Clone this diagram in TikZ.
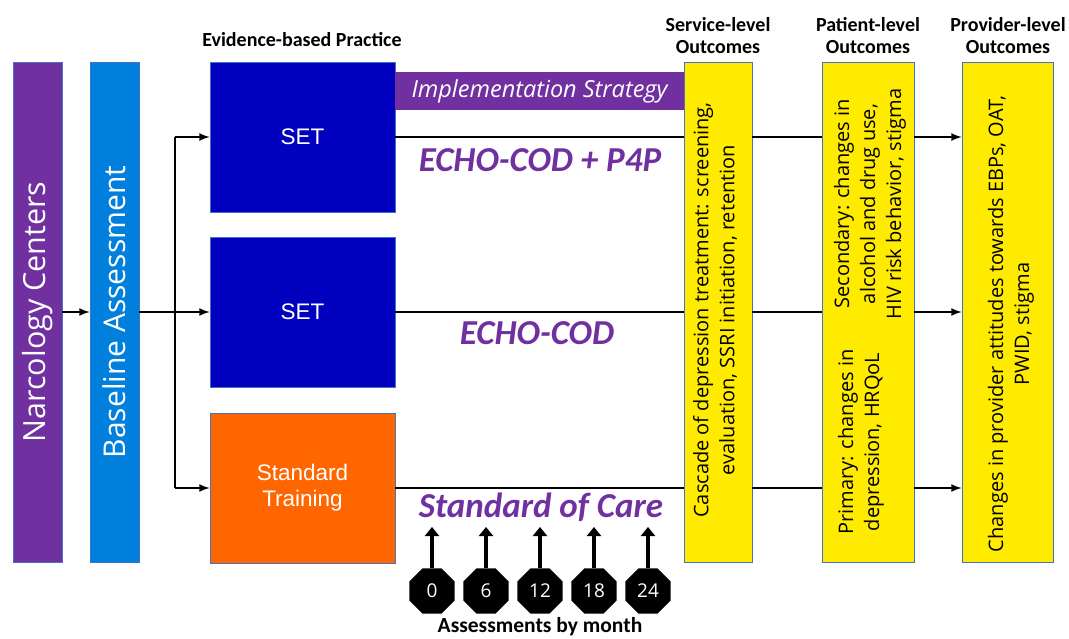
\documentclass[tikz,border=0pt]{standalone}
\usepackage{fontspec}
\setmainfont{Carlito}
\newfontfamily\osans{Open Sans}
\newfontfamily\arialf{Liberation Sans}
\usetikzlibrary{shapes,arrows,arrows.meta}

\definecolor{narcpurple}{RGB}{112,48,160}
\definecolor{baseblue}{RGB}{0,128,220}
\definecolor{setblue}{RGB}{0,0,190}
\definecolor{stdorange}{RGB}{255,102,0}
\definecolor{outyellow}{RGB}{255,235,0}
\definecolor{edge}{RGB}{68,114,196}

\begin{document}
\begin{tikzpicture}[x=1pt,y=-1pt]
	\tikzstyle{column} = [draw=edge, line width=0.7pt, inner sep=0pt, minimum width=500pt, minimum height=49pt, rotate=90, text=white]
	\tikzstyle{practice} = [draw=edge, line width=0.7pt, minimum width=185pt, minimum height=150pt, text=white, align=center, font=\arialf\fontsize{22.5}{26}\selectfont]
	\tikzstyle{outcome} = [draw=edge, fill=outyellow, line width=0.7pt, minimum height=500pt, inner sep=0pt]
	\tikzstyle{outtext} = [rotate=90, align=center, font=\osans\fontsize{20}{26}\selectfont]
	\tikzstyle{arm} = [text=narcpurple, font=\bfseries\itshape\fontsize{35}{40}\selectfont]
	\tikzstyle{head} = [align=center, font=\bfseries\fontsize{20}{22}\selectfont]
	\tikzstyle{flow} = [line width=2.5pt]
	\tikzstyle{month} = [regular polygon, regular polygon sides=8, fill=black, minimum size=49pt, inner sep=0pt, text=white, font=\osans\fontsize{19}{23}\selectfont]

	\useasboundingbox (0,0) rectangle (1069,639);

	% left columns
	\node[column, fill=narcpurple, font=\osans\fontsize{30.5}{34}\selectfont] (narc) at (37.5,312) {Narcology Centers};
	\node[column, fill=baseblue, font=\osans\fontsize{30}{34}\selectfont] (base) at (114.5,312) {Baseline Assessment};

	% evidence-based practice
	\node[head] (hebp) at (302,40) {Evidence-based Practice};
	\node[practice, fill=setblue] (set1) at (302.5,137) {SET};
	\node[practice, fill=setblue] (set2) at (302.5,312) {SET};
	\node[practice, fill=stdorange] (std) at (302.5,488) {Standard\\Training};

	\node[fill=narcpurple, minimum width=289pt, minimum height=38pt, inner sep=0pt, text=white, font=\osans\itshape\fontsize{23.5}{27}\selectfont] (impl) at (539.5,91) {Implementation Strategy};

	% outcomes
	\node[head] (hsvc) at (718,36) {Service-level\\Outcomes};
	\node[head] (hpat) at (868,36) {Patient-level\\Outcomes};
	\node[head] (hprov) at (1008,36) {Provider-level\\Outcomes};

	\node[outcome, minimum width=68pt] (svc) at (718,312) {};
	\node[outcome, minimum width=92pt] (pat) at (868,312) {};
	\node[outcome, minimum width=91pt] (prov) at (1007.5,312) {};

	\node[outtext] (svctext) at (715,310) {Cascade of depression treatment: screening,\\evaluation, SSRI initiation, retention};
	\node[outtext] (sec) at (870,204) {Secondary: changes in\\alcohol and drug use,\\HIV risk behavior, stigma};
	\node[outtext] (prim) at (861,442) {Primary: changes in\\depression, HRQoL};
	\node[outtext] (provtext) at (1011,324) {Changes in provider attitudes towards EBPs, OAT,\\PWID, stigma};

	% connectors
	\coordinate (fork) at (175,312);
	\coordinate (forktop) at (175,137);
	\coordinate (forkbot) at (175,488);
	\draw[flow, -latex] (narc) -- (base);
	\draw[flow, -latex] (base) -- (set2);
	\draw[flow] (forktop) -- (forkbot);
	\draw[flow, -latex] (forktop) -- (set1);
	\draw[flow, -latex] (forkbot) -- (std);
	\foreach \r in {set1,set2,std} {
		\draw[flow] (\r) -- (\r -| svc.west);
		\draw[flow] (\r -| svc.east) -- (\r -| pat.west);
		\draw[flow, -latex] (\r -| pat.east) -- (\r -| prov.west);
	}

	% arms
	\node[arm] (armA) at (540,160) {ECHO-COD + P4P};
	\node[arm] (armB) at (537,333) {ECHO-COD};
	\node[arm] (armC) at (541,507) {Standard of Care};

	% assessments
	\foreach \m [count=\i from 0] in {0,6,12,18,24} {
		\node[month] (m\m) at (432+54*\i,591) {\m};
		\coordinate (t\m) at (432+54*\i,527);
		\draw[line width=4.5pt, -{Triangle[length=9pt,width=14pt]}] (m\m) -- (t\m);
	}
	\node[font=\bfseries\fontsize{21.5}{24}\selectfont, inner sep=1pt] (assess) at (540,627) {Assessments by month};
\end{tikzpicture}
\end{document}
